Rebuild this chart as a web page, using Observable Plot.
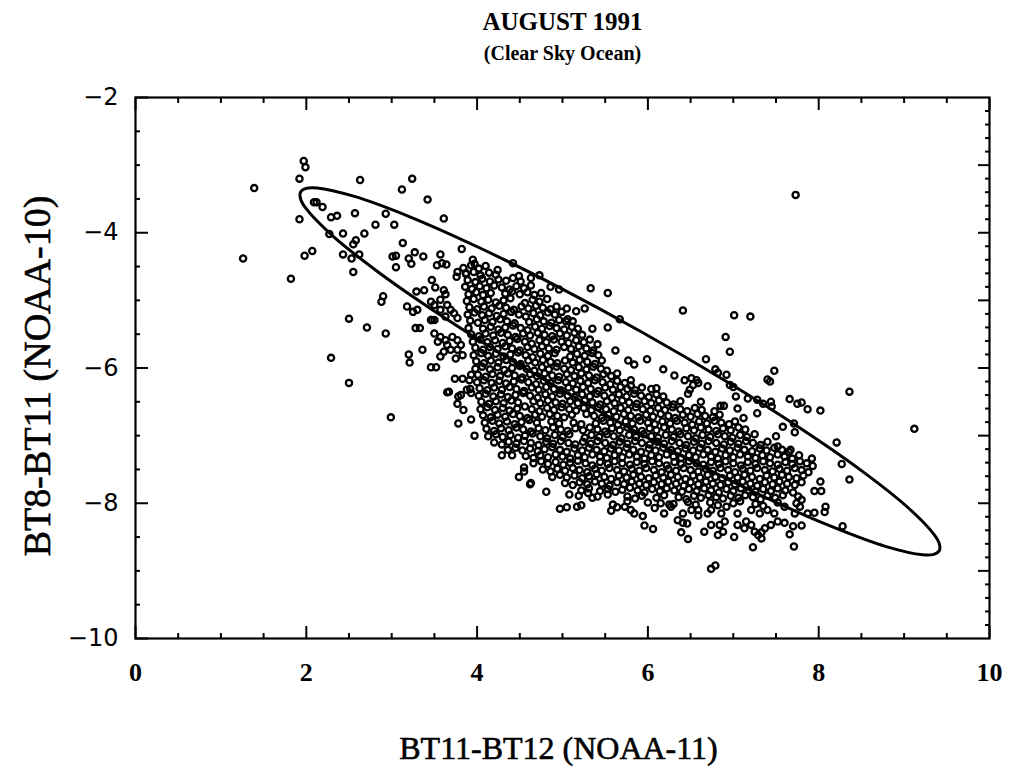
<!DOCTYPE html>
<html><head><meta charset="utf-8">
<script src="https://cdn.jsdelivr.net/npm/d3@7"></script>
<script src="https://cdn.jsdelivr.net/npm/@observablehq/plot@0.6"></script>
<style>body{margin:0;background:#fff}</style>
</head><body><div id="chart"></div>
<script>
const titleText = ["AUGUST 1991"];
const subtitleText = ["(Clear Sky Ocean)"];
const xLabelText = ["BT11-BT12 (NOAA-11)"];
const yLabelText = ["BT8-BT11 (NOAA-10)"];
const xMajor = [0, 2, 4, 6, 8, 10];
const xMinor = [0.5, 1, 1.5, 2.5, 3, 3.5, 4.5, 5, 5.5, 6.5, 7, 7.5, 8.5, 9, 9.5];
const yLeftMajor = [-2, -4, -6, -8, -10];
const yLeftMinor = [-2.5, -3, -3.5, -4.5, -5, -5.5, -6.5, -7, -7.5, -8.5, -9, -9.5];
const yRightMajor = [-3, -4, -5, -6, -7, -8, -9];
const yRightMinor = [-2.2,-2.4,-2.6,-2.8,-3.2,-3.4,-3.6,-3.8,-4.2,-4.4,-4.6,-4.8,-5.2,-5.4,-5.6,-5.8,-6.2,-6.4,-6.6,-6.8,-7.2,-7.4,-7.6,-7.8,-8.2,-8.4,-8.6,-8.8,-9.2,-9.4,-9.6,-9.8];

// ellipse outline
const ellipsePts = [[9.412,-8.704],[9.346,-8.757],[9.217,-8.763],[8.781,-8.638],[8.134,-8.336],[7.318,-7.879],[6.390,-7.296],[5.414,-6.629],[4.455,-5.923],[3.579,-5.225],[2.845,-4.583],[2.305,-4.042],[1.994,-3.637],[1.932,-3.495],[1.933,-3.396],[1.999,-3.343],[2.128,-3.337],[2.564,-3.463],[3.212,-3.764],[4.027,-4.222],[4.955,-4.804],[5.932,-5.471],[6.891,-6.178],[7.767,-6.876],[8.500,-7.517],[9.041,-8.059],[9.352,-8.464],[9.414,-8.606]];

const outlierPts = [[1.97,-2.94],[1.99,-3.03],[1.92,-3.20],[1.39,-3.34],[2.63,-3.22],[3.24,-3.20],[3.12,-3.36],[3.42,-3.51],[3.61,-3.79],
[2.09,-3.55],[2.12,-3.55],[2.19,-3.62],[2.29,-3.77],[2.36,-3.75],[1.92,-3.80],[2.57,-3.71],[2.93,-3.72],[2.81,-3.88],[3.03,-3.88],
[2.27,-4.02],[2.43,-4.01],[2.68,-4.01],[2.55,-4.17],[2.58,-4.11],[3.13,-4.15],[1.98,-4.34],[2.07,-4.27],[2.43,-4.32],[2.53,-4.38],[2.62,-4.32],[2.55,-4.58],[1.26,-4.38],[1.82,-4.68],
[3.01,-4.35],[3.05,-4.34],[3.05,-4.51],[3.20,-4.38],[3.23,-4.46],[3.27,-4.29],[3.37,-4.35],[3.57,-4.32],[3.53,-4.48],[3.59,-4.45],[3.64,-4.47],[3.82,-4.24],[3.95,-4.40],[3.97,-4.46],
[3.47,-4.70],[3.51,-4.81],[3.61,-4.85],[3.63,-4.91],[3.29,-4.87],[3.38,-4.85],[2.90,-4.94],[2.88,-5.02],[3.18,-5.09],[3.25,-5.17],[3.30,-5.14],[2.50,-5.27],[2.71,-5.40],[2.93,-5.49],[3.28,-5.41],[3.33,-5.41],[3.47,-5.29],[3.36,-5.73],[2.29,-5.85],[3.20,-5.80],[3.21,-5.92],[3.46,-5.99],[3.52,-5.99],[2.50,-6.22],[3.74,-6.16],[3.83,-6.16],
[2.99,-6.73],[3.65,-6.36],[3.78,-6.42],[3.77,-6.53],[3.84,-6.62],[3.78,-6.82],[3.88,-6.32],[3.92,-6.31],[3.93,-6.76],[3.97,-7.00],[4.29,-7.29],[4.41,-7.29],[4.55,-7.47],[4.55,-7.53],[4.49,-7.61],[4.62,-7.72],[4.81,-7.83],[4.97,-8.08],[4.63,-7.70],
[7.73,-3.44],[9.12,-6.90],[8.36,-6.35],[8.21,-7.10],[8.27,-7.42],[8.36,-7.65],[8.28,-8.34],[6.74,-8.97],[6.79,-8.92],[7.23,-8.65],[7.71,-8.64]];

const haloPts = [[3.77,-4.58],[3.76,-4.65],[3.87,-4.60],
[3.46,-5.02],[3.50,-5.07],[3.57,-4.99],[3.65,-5.07],[3.69,-5.14],[3.57,-5.14],[3.63,-5.24],[3.73,-5.19],[3.77,-5.26],[3.46,-5.29],[3.50,-5.29],
[3.50,-5.49],[3.57,-5.54],[3.54,-5.61],[3.63,-5.59],[3.71,-5.54],[3.77,-5.59],[3.81,-5.66],[3.65,-5.66],[3.69,-5.73],[3.57,-5.83],[3.61,-5.76],[3.77,-5.73],[3.83,-5.81],[3.75,-5.86],
[3.93,-6.10],[3.91,-6.18],[3.67,-6.35],[3.81,-6.40],[3.93,-6.37],
[4.24,-4.55],[4.42,-4.45],[4.49,-4.64],[4.63,-4.67],[4.73,-4.63],[4.86,-4.80],[4.96,-4.84],[5.33,-4.82],[5.53,-4.89],
[5.05,-5.12],[5.16,-5.16],[5.26,-5.12],[5.06,-5.28],[5.12,-5.31],[5.35,-5.42],[5.53,-5.40],[5.67,-5.28],[5.41,-5.65],
[5.62,-5.74],[5.77,-5.89],[5.84,-5.95],[5.99,-5.87],[6.18,-6.02],[6.68,-5.87],[6.31,-6.11],[6.79,-6.02],[6.82,-6.07],[6.92,-6.10],
[6.41,-5.15],[7.01,-5.22],[7.20,-5.24],[6.91,-5.54],[6.96,-5.76],
[5.80,-6.26],[6.04,-6.31],[6.10,-6.30],[6.43,-6.18],[6.51,-6.15],[6.57,-6.18],[6.59,-6.22],[6.53,-6.25],[6.49,-6.32],[6.47,-6.38],
[6.70,-6.27],[6.62,-6.50],[6.78,-6.64],[6.85,-6.56],[6.89,-6.56],
[6.96,-6.25],[7.00,-6.28],[7.03,-6.42],[7.05,-6.60],[7.12,-6.74],[7.17,-6.45],[7.28,-6.47],[7.35,-6.53],[7.44,-6.50],[7.45,-6.57],[7.28,-6.67],
[7.58,-6.87],[7.71,-6.82],[7.72,-6.95],[7.48,-6.04],[7.40,-6.17],[7.43,-6.20],[7.66,-6.46],[7.75,-6.53],[7.80,-6.51],[7.87,-6.61],[8.02,-6.63],
[7.67,-7.21],[7.92,-7.34],[7.93,-7.45],[8.02,-7.68],[8.03,-7.82],[7.95,-7.82],[8.08,-8.05],[8.07,-8.13],[7.95,-8.14],[7.87,-8.15],
[7.50,-7.01],[7.52,-7.16],
[5.08,-7.87],[5.19,-7.89],[5.30,-7.85],[5.35,-7.92],[5.41,-7.90],[5.53,-7.87],[5.59,-8.02],[5.64,-8.06],[5.57,-8.11],[5.05,-8.06],[5.17,-8.05],[5.22,-8.03],
[5.73,-8.05],[5.76,-7.97],[5.80,-8.10],[5.84,-8.15],[5.94,-8.19],[5.96,-8.33],[6.06,-8.38],[6.19,-8.15],[6.27,-8.05],[6.35,-8.25],[6.39,-8.43],[6.47,-8.53],[6.41,-8.15],[6.51,-8.10],[6.59,-8.18],[6.66,-8.42],[6.74,-8.32],[6.82,-8.47],[6.88,-8.42],[6.90,-8.27],[7.01,-8.50],[7.05,-8.32],[7.13,-8.37],[7.21,-8.32],[7.25,-8.42],[7.33,-8.52],[7.33,-8.43],[7.37,-8.37],[7.44,-8.32],[7.52,-8.27],[7.60,-8.29],[7.66,-8.46],[7.80,-8.33],[7.72,-8.15],[7.78,-8.05],
[6.84,-8.32],[7.29,-8.47],[7.70,-8.34],[6.41,-8.29],[6.46,-8.30],[7.15,-8.27],
[6.00,-7.99],[6.08,-8.07],[6.15,-8.00],[6.25,-8.02],
[6.59,-8.10],[6.70,-8.15],[6.74,-8.10],[6.86,-8.15],[6.92,-8.05],[7.05,-8.15],[7.21,-8.10],[7.31,-8.15],[7.40,-8.10],[7.48,-8.15],[7.60,-8.05],[7.74,-8.00],[7.76,-7.90],[7.80,-7.95]];

const corePts = [
[3.84,-4.52],[3.93,-4.48],[4.02,-4.53],[4.10,-4.49],
[3.87,-4.61],[3.96,-4.58],[4.04,-4.63],[4.14,-4.59],[4.22,-4.62],
[3.89,-4.70],[3.98,-4.73],[4.06,-4.68],[4.15,-4.72],[4.25,-4.69],[4.34,-4.71],[4.42,-4.67],[4.51,-4.72],
[3.86,-4.80],[3.94,-4.83],[4.03,-4.79],[4.11,-4.82],[4.20,-4.78],[4.29,-4.81],[4.38,-4.84],[4.46,-4.79],[4.55,-4.82],[4.63,-4.78],
[3.90,-4.91],[3.99,-4.88],[4.07,-4.92],[4.16,-4.89],[4.33,-4.90],[4.41,-4.87],[4.50,-4.91],[4.59,-4.88],[4.67,-4.92],[4.75,-4.89],
[3.88,-5.01],[3.96,-4.98],[4.05,-5.02],[4.13,-4.99],[4.22,-5.03],[4.31,-5.00],[4.39,-4.97],[4.56,-5.04],[4.65,-4.99],[4.73,-5.02],[4.82,-4.98],
[3.91,-5.10],[4.00,-5.13],[4.08,-5.09],[4.17,-5.12],[4.26,-5.08],[4.34,-5.11],[4.43,-5.14],[4.52,-5.09],[4.60,-5.12],[4.69,-5.08],[4.77,-5.11],[4.86,-5.13],[4.93,-5.09],
[3.89,-5.21],[3.97,-5.18],[4.06,-5.22],[4.14,-5.19],[4.23,-5.23],[4.31,-5.20],[4.40,-5.17],[4.49,-5.21],[4.57,-5.24],[4.66,-5.19],[4.74,-5.22],[4.83,-5.18],[4.91,-5.21],[4.99,-5.17],
[3.92,-5.30],[4.01,-5.33],[4.09,-5.29],[4.18,-5.32],[4.27,-5.28],[4.35,-5.31],[4.44,-5.34],[4.61,-5.32],[4.70,-5.28],[4.78,-5.31],[4.87,-5.33],[4.96,-5.29],[5.04,-5.31],
[3.90,-5.41],[4.07,-5.42],[4.16,-5.39],[4.25,-5.43],[4.33,-5.40],[4.42,-5.37],[4.51,-5.41],[4.59,-5.44],[4.68,-5.39],[4.76,-5.42],[4.85,-5.38],[4.93,-5.41],[5.02,-5.43],[5.11,-5.39],[5.18,-5.42],
[3.93,-5.50],[4.02,-5.53],[4.10,-5.49],[4.19,-5.52],[4.28,-5.48],[4.36,-5.51],[4.45,-5.54],[4.54,-5.49],[4.62,-5.52],[4.71,-5.48],[4.79,-5.51],[4.88,-5.53],[4.97,-5.49],[5.05,-5.52],[5.14,-5.48],[5.23,-5.51],
[3.95,-5.61],[4.04,-5.58],[4.12,-5.62],[4.21,-5.59],[4.30,-5.63],[4.38,-5.60],[4.47,-5.57],[4.56,-5.61],[4.64,-5.64],[4.73,-5.59],[4.81,-5.62],[4.90,-5.58],[4.99,-5.61],[5.07,-5.63],[5.16,-5.59],[5.25,-5.62],[5.32,-5.58],
[3.98,-5.70],[4.07,-5.73],[4.15,-5.69],[4.24,-5.72],[4.33,-5.68],[4.41,-5.71],[4.50,-5.74],[4.59,-5.69],[4.67,-5.72],[4.76,-5.68],[4.84,-5.71],[4.93,-5.73],[5.02,-5.69],[5.10,-5.72],[5.19,-5.68],[5.28,-5.71],[5.36,-5.74],
[3.96,-5.81],[4.05,-5.78],[4.13,-5.82],[4.22,-5.79],[4.31,-5.83],[4.39,-5.80],[4.48,-5.77],[4.57,-5.81],[4.65,-5.84],[4.74,-5.79],[4.83,-5.82],[4.91,-5.78],[5.09,-5.83],[5.17,-5.79],[5.26,-5.82],[5.35,-5.78],[5.42,-5.81],
[3.99,-5.90],[4.08,-5.93],[4.16,-5.89],[4.25,-5.92],[4.34,-5.88],[4.42,-5.91],[4.51,-5.94],[4.60,-5.89],[4.68,-5.92],[4.77,-5.88],[4.86,-5.91],[4.94,-5.93],[5.03,-5.89],[5.12,-5.92],[5.20,-5.88],[5.29,-5.91],[5.38,-5.94],[5.46,-5.89],
[3.98,-6.01],[4.06,-5.98],[4.15,-6.02],[4.24,-5.99],[4.32,-6.03],[4.41,-6.00],[4.50,-5.97],[4.58,-6.01],[4.67,-6.04],[4.76,-5.99],[4.84,-6.02],[4.93,-5.98],[5.02,-6.01],[5.10,-6.03],[5.19,-5.99],[5.28,-6.02],[5.36,-5.98],[5.45,-6.01],[5.52,-6.04],
[4.01,-6.10],[4.10,-6.13],[4.18,-6.09],[4.27,-6.12],[4.36,-6.08],[4.44,-6.11],[4.53,-6.14],[4.62,-6.09],[4.70,-6.12],[4.79,-6.08],[4.88,-6.11],[4.96,-6.13],[5.05,-6.09],[5.14,-6.12],[5.22,-6.08],[5.31,-6.11],[5.40,-6.14],[5.48,-6.09],[5.57,-6.12],[5.64,-6.08],
[4.00,-6.21],[4.08,-6.18],[4.17,-6.22],[4.26,-6.19],[4.34,-6.23],[4.43,-6.20],[4.52,-6.17],[4.60,-6.21],[4.69,-6.24],[4.78,-6.19],[4.86,-6.22],[4.95,-6.18],[5.04,-6.21],[5.12,-6.23],[5.21,-6.19],[5.30,-6.22],[5.38,-6.18],[5.47,-6.21],[5.56,-6.24],[5.64,-6.19],[5.73,-6.22],[5.80,-6.18],
[4.03,-6.30],[4.12,-6.33],[4.20,-6.29],[4.29,-6.32],[4.38,-6.28],[4.46,-6.31],[4.55,-6.34],[4.64,-6.29],[4.72,-6.32],[4.81,-6.28],[4.90,-6.31],[4.98,-6.33],[5.07,-6.29],[5.16,-6.32],[5.24,-6.28],[5.33,-6.31],[5.42,-6.34],[5.50,-6.29],[5.59,-6.32],[5.68,-6.28],[5.76,-6.31],[5.85,-6.33],[5.93,-6.29],
[4.02,-6.41],[4.10,-6.38],[4.19,-6.42],[4.28,-6.39],[4.36,-6.43],[4.45,-6.40],[4.54,-6.37],[4.62,-6.41],[4.71,-6.44],[4.80,-6.39],[4.88,-6.42],[4.97,-6.38],[5.06,-6.41],[5.14,-6.43],[5.23,-6.39],[5.32,-6.42],[5.40,-6.38],[5.49,-6.41],[5.58,-6.44],[5.66,-6.39],[5.75,-6.42],[5.84,-6.38],[5.92,-6.41],[6.01,-6.43],[6.10,-6.39],[6.18,-6.42],
[4.05,-6.50],[4.14,-6.53],[4.22,-6.49],[4.31,-6.52],[4.40,-6.48],[4.48,-6.51],[4.66,-6.49],[4.74,-6.52],[4.83,-6.48],[4.92,-6.51],[5.00,-6.53],[5.09,-6.49],[5.18,-6.52],[5.26,-6.48],[5.35,-6.51],[5.44,-6.54],[5.52,-6.49],[5.61,-6.52],[5.70,-6.48],[5.78,-6.51],[5.87,-6.53],[5.96,-6.49],[6.04,-6.52],[6.13,-6.48],[6.22,-6.51],[6.30,-6.54],[6.38,-6.49],
[4.04,-6.61],[4.12,-6.58],[4.21,-6.62],[4.30,-6.59],[4.38,-6.63],[4.47,-6.60],[4.56,-6.57],[4.64,-6.61],[4.73,-6.64],[4.82,-6.59],[4.90,-6.62],[4.99,-6.58],[5.08,-6.61],[5.16,-6.63],[5.25,-6.59],[5.34,-6.62],[5.42,-6.58],[5.51,-6.61],[5.60,-6.64],[5.68,-6.59],[5.77,-6.62],[5.86,-6.58],[5.94,-6.61],[6.03,-6.63],[6.12,-6.59],[6.20,-6.62],[6.29,-6.58],[6.38,-6.61],[6.46,-6.64],[6.55,-6.59],[6.63,-6.62],
[4.07,-6.70],[4.16,-6.73],[4.24,-6.69],[4.33,-6.72],[4.42,-6.68],[4.50,-6.71],[4.59,-6.74],[4.68,-6.69],[4.76,-6.72],[4.85,-6.68],[4.94,-6.71],[5.02,-6.73],[5.11,-6.69],[5.28,-6.68],[5.37,-6.71],[5.46,-6.74],[5.54,-6.69],[5.63,-6.72],[5.72,-6.68],[5.80,-6.71],[5.89,-6.73],[5.98,-6.69],[6.06,-6.72],[6.15,-6.68],[6.24,-6.71],[6.32,-6.74],[6.41,-6.69],[6.50,-6.72],[6.58,-6.68],[6.67,-6.71],[6.76,-6.73],[6.84,-6.69],
[4.09,-6.81],[4.18,-6.78],[4.26,-6.82],[4.35,-6.79],[4.44,-6.83],[4.52,-6.80],[4.61,-6.77],[4.70,-6.81],[4.87,-6.79],[4.96,-6.82],[5.13,-6.81],[5.22,-6.83],[5.39,-6.82],[5.48,-6.78],[5.56,-6.81],[5.65,-6.84],[5.74,-6.79],[5.82,-6.82],[5.91,-6.78],[6.00,-6.81],[6.08,-6.83],[6.17,-6.79],[6.26,-6.82],[6.34,-6.78],[6.43,-6.81],[6.52,-6.84],[6.60,-6.79],[6.69,-6.82],[6.78,-6.78],[6.86,-6.81],[6.95,-6.83],[7.02,-6.79],
[4.11,-6.90],[4.20,-6.93],[4.28,-6.89],[4.37,-6.92],[4.46,-6.88],[4.54,-6.91],[4.63,-6.94],[4.72,-6.89],[4.80,-6.92],[4.89,-6.88],[4.98,-6.91],[5.06,-6.93],[5.15,-6.89],[5.24,-6.92],[5.32,-6.88],[5.41,-6.91],[5.50,-6.94],[5.58,-6.89],[5.67,-6.92],[5.76,-6.88],[5.84,-6.91],[5.93,-6.93],[6.02,-6.89],[6.10,-6.92],[6.19,-6.88],[6.28,-6.91],[6.36,-6.94],[6.45,-6.89],[6.54,-6.92],[6.62,-6.88],[6.71,-6.91],[6.80,-6.93],[6.88,-6.89],[6.97,-6.92],[7.06,-6.88],[7.14,-6.91],
[4.13,-7.01],[4.22,-6.98],[4.30,-7.02],[4.39,-6.99],[4.48,-7.03],[4.56,-7.00],[4.65,-6.97],[4.74,-7.01],[4.82,-7.04],[4.91,-6.99],[5.00,-7.02],[5.08,-6.98],[5.26,-7.03],[5.34,-6.99],[5.43,-7.02],[5.52,-6.98],[5.60,-7.01],[5.69,-7.04],[5.78,-6.99],[5.86,-7.02],[5.95,-6.98],[6.04,-7.01],[6.12,-7.03],[6.21,-6.99],[6.30,-7.02],[6.38,-6.98],[6.47,-7.01],[6.56,-7.04],[6.64,-6.99],[6.73,-7.02],[6.82,-6.98],[6.90,-7.01],[6.99,-7.03],[7.08,-6.99],[7.16,-7.02],[7.25,-6.98],
[4.20,-7.10],[4.29,-7.13],[4.37,-7.09],[4.46,-7.12],[4.55,-7.08],[4.63,-7.11],[4.72,-7.14],[4.81,-7.09],[4.89,-7.12],[4.98,-7.08],[5.07,-7.11],[5.15,-7.13],[5.24,-7.09],[5.33,-7.12],[5.41,-7.08],[5.50,-7.11],[5.59,-7.14],[5.67,-7.09],[5.76,-7.12],[5.85,-7.08],[5.93,-7.11],[6.02,-7.13],[6.11,-7.09],[6.19,-7.12],[6.28,-7.08],[6.37,-7.11],[6.45,-7.14],[6.54,-7.09],[6.63,-7.12],[6.71,-7.08],[6.80,-7.11],[6.89,-7.13],[6.97,-7.09],[7.06,-7.12],[7.15,-7.08],[7.23,-7.11],[7.32,-7.14],[7.40,-7.09],
[4.36,-7.21],[4.45,-7.18],[4.53,-7.22],[4.62,-7.19],[4.71,-7.23],[4.79,-7.20],[4.88,-7.17],[4.97,-7.21],[5.05,-7.24],[5.14,-7.19],[5.23,-7.22],[5.31,-7.18],[5.40,-7.21],[5.49,-7.23],[5.57,-7.19],[5.66,-7.22],[5.75,-7.18],[5.83,-7.21],[5.92,-7.24],[6.01,-7.19],[6.09,-7.22],[6.18,-7.18],[6.27,-7.21],[6.35,-7.23],[6.44,-7.19],[6.53,-7.22],[6.61,-7.18],[6.70,-7.21],[6.79,-7.24],[6.87,-7.19],[6.96,-7.22],[7.05,-7.18],[7.13,-7.21],[7.22,-7.23],[7.31,-7.19],[7.39,-7.22],[7.48,-7.18],[7.57,-7.21],[7.65,-7.24],
[4.57,-7.30],[4.66,-7.33],[4.74,-7.29],[4.83,-7.32],[4.92,-7.28],[5.00,-7.31],[5.09,-7.34],[5.18,-7.29],[5.26,-7.32],[5.35,-7.28],[5.44,-7.31],[5.52,-7.33],[5.61,-7.29],[5.70,-7.32],[5.78,-7.28],[5.87,-7.31],[5.96,-7.34],[6.04,-7.29],[6.13,-7.32],[6.22,-7.28],[6.30,-7.31],[6.39,-7.33],[6.48,-7.29],[6.56,-7.32],[6.65,-7.28],[6.74,-7.31],[6.82,-7.34],[6.91,-7.29],[7.00,-7.32],[7.08,-7.28],[7.17,-7.31],[7.26,-7.33],[7.34,-7.29],[7.43,-7.32],[7.52,-7.28],[7.60,-7.31],[7.69,-7.34],[7.77,-7.29],
[4.66,-7.41],[4.75,-7.38],[4.83,-7.42],[4.92,-7.39],[5.01,-7.43],[5.09,-7.40],[5.18,-7.37],[5.27,-7.41],[5.35,-7.44],[5.44,-7.39],[5.53,-7.42],[5.61,-7.38],[5.70,-7.41],[5.79,-7.43],[5.87,-7.39],[5.96,-7.42],[6.05,-7.38],[6.13,-7.41],[6.22,-7.44],[6.31,-7.39],[6.39,-7.42],[6.48,-7.38],[6.57,-7.41],[6.65,-7.43],[6.74,-7.39],[6.83,-7.42],[6.91,-7.38],[7.00,-7.41],[7.09,-7.44],[7.17,-7.39],[7.26,-7.42],[7.35,-7.38],[7.43,-7.41],[7.52,-7.43],[7.61,-7.39],[7.69,-7.42],[7.78,-7.38],[7.86,-7.41],
[4.77,-7.50],[4.86,-7.53],[4.94,-7.49],[5.03,-7.52],[5.12,-7.48],[5.20,-7.51],[5.29,-7.54],[5.38,-7.49],[5.46,-7.52],[5.55,-7.48],[5.64,-7.51],[5.72,-7.53],[5.81,-7.49],[5.90,-7.52],[5.98,-7.48],[6.07,-7.51],[6.16,-7.54],[6.24,-7.49],[6.33,-7.52],[6.42,-7.48],[6.50,-7.51],[6.59,-7.53],[6.68,-7.49],[6.76,-7.52],[6.85,-7.48],[6.94,-7.51],[7.02,-7.54],[7.11,-7.49],[7.20,-7.52],[7.28,-7.48],[7.37,-7.51],[7.46,-7.53],[7.54,-7.49],[7.63,-7.52],[7.72,-7.48],[7.80,-7.51],[7.88,-7.54],
[4.88,-7.61],[4.97,-7.58],[5.05,-7.62],[5.14,-7.59],[5.23,-7.63],[5.31,-7.60],[5.40,-7.57],[5.49,-7.61],[5.57,-7.64],[5.66,-7.59],[5.75,-7.62],[5.83,-7.58],[5.92,-7.61],[6.01,-7.63],[6.09,-7.59],[6.18,-7.62],[6.27,-7.58],[6.35,-7.61],[6.44,-7.64],[6.53,-7.59],[6.61,-7.62],[6.70,-7.58],[6.79,-7.61],[6.87,-7.63],[6.96,-7.59],[7.05,-7.62],[7.13,-7.58],[7.22,-7.61],[7.31,-7.64],[7.39,-7.59],[7.48,-7.62],[7.57,-7.58],[7.65,-7.61],[7.74,-7.63],[7.82,-7.59],
[5.03,-7.70],[5.12,-7.73],[5.20,-7.69],[5.29,-7.72],[5.38,-7.68],[5.46,-7.71],[5.55,-7.74],[5.64,-7.69],[5.72,-7.72],[5.81,-7.68],[5.90,-7.71],[5.98,-7.73],[6.07,-7.69],[6.16,-7.72],[6.24,-7.68],[6.33,-7.71],[6.42,-7.74],[6.50,-7.69],[6.59,-7.72],[6.68,-7.68],[6.76,-7.71],[6.85,-7.73],[6.94,-7.69],[7.02,-7.72],[7.11,-7.68],[7.20,-7.71],[7.28,-7.74],[7.37,-7.69],[7.46,-7.72],[7.54,-7.68],[7.63,-7.71],[7.72,-7.73],[7.80,-7.69],
[5.22,-7.81],[5.31,-7.78],[5.44,-7.82],[5.53,-7.79],[5.62,-7.83],[5.70,-7.80],[5.79,-7.77],[5.88,-7.81],[5.96,-7.84],[6.05,-7.79],[6.14,-7.82],[6.22,-7.78],[6.31,-7.81],[6.40,-7.83],[6.48,-7.79],[6.57,-7.82],[6.66,-7.78],[6.74,-7.81],[6.83,-7.84],[6.92,-7.79],[7.00,-7.82],[7.09,-7.78],[7.18,-7.81],[7.26,-7.83],[7.35,-7.79],[7.44,-7.82],[7.52,-7.78],[7.61,-7.81],[7.70,-7.84],
[5.76,-7.90],[5.85,-7.93],[5.93,-7.89],[6.10,-7.92],[6.19,-7.88],[6.36,-7.91],[6.45,-7.94],[6.54,-7.89],[6.62,-7.92],[6.71,-7.88],[6.80,-7.91],[6.88,-7.93],[6.97,-7.89],[7.06,-7.92],[7.14,-7.88],[7.23,-7.91],[7.32,-7.94],[7.40,-7.89],[7.49,-7.92],[7.58,-7.88],
[6.30,-8.01],[6.47,-7.98],[6.56,-8.02],[6.73,-7.99],[6.82,-8.03],[7.00,-8.00],[7.08,-7.97],[7.26,-8.01],[7.35,-8.04],[7.52,-7.99]];

const points = [...outlierPts, ...haloPts, ...corePts];

const serif = "'Liberation Serif', 'DejaVu Serif', serif";
const sans = "'DejaVu Sans', sans-serif";
const minusFmt = d => (d < 0 ? "\u2212" : "") + Math.abs(d);

const chart = Plot.plot({
  width: 1009,
  height: 767,
  marginLeft: 135,
  marginRight: 20,
  marginTop: 97,
  marginBottom: 129,
  style: {background: "white", color: "black", overflow: "visible"},
  x: {domain: [0, 10]},
  y: {domain: [-10, -2]},
  marks: [
    Plot.dot(points, {x: d => d[0], y: d => d[1], r: 3.1, stroke: "black", strokeWidth: 2.3, fill: "none"}),
    Plot.line(ellipsePts, {x: d => d[0], y: d => d[1], curve: "catmull-rom-closed", stroke: "black", strokeWidth: 3}),
    Plot.frame({stroke: "black", strokeWidth: 2.2}),
    // inward tick marks
    Plot.axisX(xMajor, {anchor: "bottom", tickSize: -12, tickFormat: () => "", strokeWidth: 2, label: null}),
    Plot.axisX(xMinor, {anchor: "bottom", tickSize: -5, tickFormat: () => "", strokeWidth: 2, label: null}),
    Plot.axisX(xMajor, {anchor: "top", tickSize: -12, tickFormat: () => "", strokeWidth: 2, label: null}),
    Plot.axisX(xMinor, {anchor: "top", tickSize: -5, tickFormat: () => "", strokeWidth: 2, label: null}),
    Plot.axisY(yLeftMajor, {anchor: "left", tickSize: -13, tickFormat: () => "", strokeWidth: 2, label: null}),
    Plot.axisY(yLeftMinor, {anchor: "left", tickSize: -5, tickFormat: () => "", strokeWidth: 2, label: null}),
    Plot.axisY(yRightMajor, {anchor: "right", tickSize: -12, tickFormat: () => "", strokeWidth: 2, label: null}),
    Plot.axisY(yRightMinor, {anchor: "right", tickSize: -5, tickFormat: () => "", strokeWidth: 2, label: null}),
    // tick labels
    Plot.axisX(xMajor, {anchor: "bottom", tickSize: 0, tickPadding: 24, tickFormat: d => String(d), fontSize: 26, fontFamily: serif, fontWeight: "bold", label: null}),
    Plot.axisY(yLeftMajor, {anchor: "left", tickSize: 0, tickPadding: 17, tickFormat: minusFmt, fontSize: 24, fontFamily: sans, label: null}),
    // titles
    Plot.text(titleText, {text: d => d, frameAnchor: "top", dy: -76, textAnchor: "middle", lineAnchor: "middle", fontSize: 25, fontWeight: "bold", fontFamily: serif}),
    Plot.text(subtitleText, {text: d => d, frameAnchor: "top", dy: -44, textAnchor: "middle", lineAnchor: "middle", fontSize: 20, fontWeight: "bold", fontFamily: serif}),
    Plot.text(xLabelText, {text: d => d, frameAnchor: "bottom", dx: -4, dy: 110, textAnchor: "middle", lineAnchor: "middle", fontSize: 32, fontFamily: serif, stroke: "black", strokeWidth: 0.6, fill: "black"}),
    Plot.text(yLabelText, {text: d => d, frameAnchor: "left", rotate: -90, dx: -98, dy: 8, textAnchor: "middle", lineAnchor: "middle", fontSize: 38, fontFamily: serif, stroke: "black", strokeWidth: 0.6, fill: "black"})
  ]
});
document.getElementById("chart").appendChild(chart);
</script>
</body></html>
